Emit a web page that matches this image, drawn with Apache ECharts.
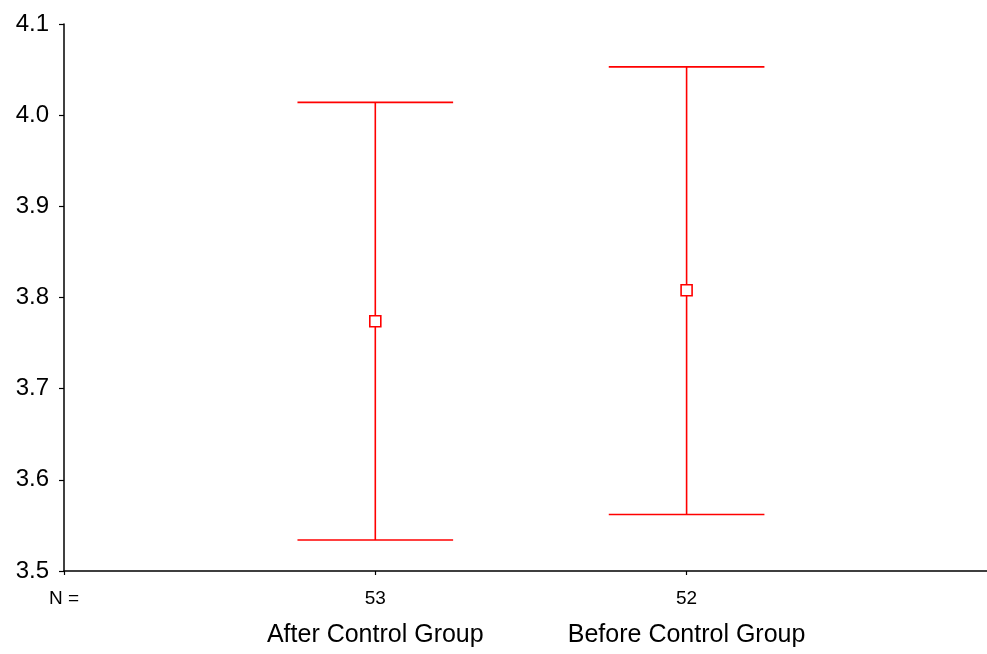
<!DOCTYPE html>
<html>
<head>
<meta charset="utf-8">
<script src="https://cdn.jsdelivr.net/npm/echarts@6/dist/echarts.min.js"></script>
<style>html,body{margin:0;padding:0;background:#fff}#c{width:987px;height:654px}</style>
</head>
<body>
<div id="c"></div>
<script>
var categories = ['After Control Group', 'Before Control Group'];
var nValues = ['53', '52'];
var means = [3.774, 3.808];
var upper = [4.014, 4.053];
var lower = [3.534, 3.562];
var yTicks = [3.5, 3.6, 3.7, 3.8, 3.9, 4.0, 4.1];

var chart = echarts.init(document.getElementById('c'));
var errData = categories.map(function (c, i) { return [i + 1, lower[i], upper[i]]; });
var meanData = categories.map(function (c, i) { return [i + 1, means[i]]; });

chart.setOption({
  animation: false,
  backgroundColor: '#fff',
  textStyle: { fontFamily: 'Liberation Sans, Arial, sans-serif' },
  grid: { left: 64, right: 0, top: 24, bottom: 83, containLabel: false },
  xAxis: {
    type: 'value', min: 0, max: 2.965, interval: 1,
    splitLine: { show: false },
    axisLine: { show: true, lineStyle: { color: '#000', width: 1.5 } },
    axisTick: { show: true, length: 4, lineStyle: { color: '#000', width: 1.2 } },
    axisLabel: {
      margin: 16,
      showMaxLabel: false,
      formatter: function (v) {
        if (v === 0) return '{n|N =}';
        var i = Math.round(v) - 1;
        if (Math.abs(v - Math.round(v)) < 1e-6 && i >= 0 && i < categories.length) {
          return '{n|' + nValues[i] + '}\n{c|' + categories[i] + '}';
        }
        return '';
      },
      rich: {
        n: { fontSize: 19, color: '#000', lineHeight: 24, fontFamily: 'Liberation Sans, Arial, sans-serif' },
        c: { fontSize: 25, color: '#000', lineHeight: 48, fontFamily: 'Liberation Sans, Arial, sans-serif' }
      }
    }
  },
  yAxis: {
    type: 'value', min: 3.5, max: 4.1, interval: 0.1,
    splitLine: { show: false },
    axisLine: { show: true, lineStyle: { color: '#000', width: 1.5 } },
    axisTick: { show: true, length: 5, lineStyle: { color: '#000', width: 1.2 } },
    axisLabel: {
      color: '#000', fontSize: 24, margin: 15,
      formatter: function (v) { return v.toFixed(1); }
    }
  },
  series: [
    {
      type: 'custom',
      data: errData,
      renderItem: function (params, api) {
        var x = api.value(0);
        var lo = api.coord([x, api.value(1)]);
        var hi = api.coord([x, api.value(2)]);
        var l1 = api.coord([x - 0.25, api.value(2)]);
        var r1 = api.coord([x + 0.25, api.value(2)]);
        var l2 = api.coord([x - 0.25, api.value(1)]);
        var r2 = api.coord([x + 0.25, api.value(1)]);
        var st = { stroke: '#ff0000', lineWidth: 1.6 };
        return {
          type: 'group',
          children: [
            { type: 'line', shape: { x1: hi[0], y1: hi[1], x2: lo[0], y2: lo[1] }, style: st },
            { type: 'line', shape: { x1: l1[0], y1: l1[1], x2: r1[0], y2: r1[1] }, style: st },
            { type: 'line', shape: { x1: l2[0], y1: l2[1], x2: r2[0], y2: r2[1] }, style: st }
          ]
        };
      }
    },
    {
      type: 'scatter',
      data: meanData,
      symbol: 'rect',
      symbolSize: 11,
      itemStyle: { color: '#fff', borderColor: '#ff0000', borderWidth: 1.6, opacity: 1 },
      z: 5
    }
  ]
});
</script>
</body>
</html>
